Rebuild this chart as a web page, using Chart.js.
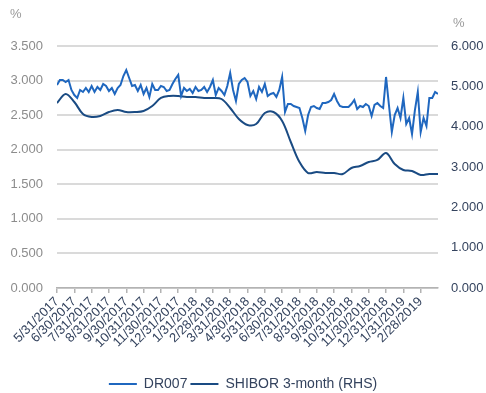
<!DOCTYPE html>
<html>
<head>
<meta charset="utf-8">
<script src="https://cdn.jsdelivr.net/npm/chart.js@4"></script>
<style>
  html, body { margin: 0; padding: 0; background: #fff; }
  #wrap { width: 486px; height: 393px; }
</style>
</head>
<body>
<div id="wrap"><canvas id="chartTasas"></canvas></div>
<script>
// Etiquetas de fin de mes del eje X
const etiquetasMes = [
  "5/31/2017", "6/30/2017", "7/31/2017", "8/31/2017", "9/30/2017", "10/31/2017",
  "11/30/2017", "12/31/2017", "1/31/2018", "2/28/2018", "3/31/2018", "4/30/2018",
  "5/31/2018", "6/30/2018", "7/31/2018", "8/31/2018", "9/30/2018", "10/31/2018",
  "11/30/2018", "12/31/2018", "1/31/2019", "2/28/2019"
];

// DR007 (%), 6 observaciones por mes
const dr007 = [
  2.936, 3.008, 3.008, 2.979, 3.008, 2.864,
  2.791, 2.748, 2.864, 2.835, 2.893, 2.835,
  2.922, 2.835, 2.907, 2.864, 2.951, 2.922,
  2.849, 2.893, 2.806, 2.893, 2.936, 3.066,
  3.153, 3.037, 2.922, 2.936, 2.849, 2.936,
  2.806, 2.893, 2.763, 2.951, 2.864, 2.864,
  2.922, 2.907, 2.849, 2.864, 2.951, 3.023,
  3.081, 2.777, 2.893, 2.849, 2.878, 2.820,
  2.907, 2.849, 2.864, 2.907, 2.835, 2.907,
  3.008, 2.791, 2.893, 2.849, 2.791, 2.922,
  3.110, 2.864, 2.705, 2.951, 3.008, 3.037,
  2.979, 2.777, 2.849, 2.734, 2.907, 2.835,
  2.951, 2.777, 2.806, 2.820, 2.763, 2.864,
  3.052, 2.546, 2.661, 2.661, 2.632, 2.618,
  2.603, 2.459, 2.271, 2.502, 2.618, 2.632,
  2.603, 2.589, 2.676, 2.676, 2.690, 2.719,
  2.806, 2.705, 2.632, 2.618, 2.618, 2.618,
  2.661, 2.719, 2.589, 2.632, 2.618, 2.661,
  2.632, 2.488, 2.647, 2.676, 2.632, 2.603,
  3.052, 2.647, 2.256, 2.502, 2.603, 2.459,
  2.748, 2.372, 2.459, 2.227, 2.574, 2.835,
  2.256, 2.459, 2.343, 2.748, 2.748, 2.835,
  2.806
];

// SHIBOR 3 meses (%), 2 observaciones por mes (eje derecho)
const shibor3m = [
  4.587, 4.810, 4.612, 4.314, 4.240, 4.265,
  4.364, 4.414, 4.364, 4.364, 4.389, 4.513,
  4.711, 4.761, 4.761, 4.736, 4.736, 4.711,
  4.711, 4.686, 4.463, 4.190, 4.042, 4.066,
  4.339, 4.364, 4.141, 3.620, 3.124, 2.851,
  2.876, 2.851, 2.851, 2.827, 2.976, 3.025,
  3.124, 3.174, 3.347, 3.075, 2.926, 2.901,
  2.802, 2.827, 2.827
];

const textoOscuro = "#34435e";
const textoGris = "#8c8c8c";
const fuente = "'Liberation Sans', Arial, sans-serif";

// Convierte una serie a puntos {x, y} con x en meses desde 5/31/2017
function aPuntos(serie, porMes) {
  return serie.map((v, i) => ({ x: i / porMes, y: v }));
}

// Dibuja las marcas "%" sobre cada eje vertical
const pluginPorcentaje = {
  id: "porcentaje",
  afterDraw(chart) {
    const { ctx, chartArea } = chart;
    ctx.save();
    ctx.font = "13px " + fuente;
    ctx.fillStyle = "#9a9a9a";
    ctx.textBaseline = "middle";
    ctx.textAlign = "left";
    ctx.fillText("%", chartArea.left - 47, chartArea.top - 32);
    ctx.fillText("%", chartArea.right + 15, chartArea.top - 23);
    ctx.restore();
  }
};

const ctx = document.getElementById("chartTasas").getContext("2d");
new Chart(ctx, {
  type: "line",
  data: {
    datasets: [
      {
        label: "DR007",
        data: aPuntos(dr007, 6),
        borderColor: "#1f67bf",
        backgroundColor: "#1f67bf",
        borderWidth: 2,
        pointRadius: 0,
        tension: 0,
        yAxisID: "y"
      },
      {
        label: "SHIBOR 3-month (RHS)",
        data: aPuntos(shibor3m, 2),
        borderColor: "#1a4b83",
        backgroundColor: "#1a4b83",
        borderWidth: 2,
        pointRadius: 0,
        tension: 0.35,
        yAxisID: "y1"
      }
    ]
  },
  options: {
    responsive: true,
    maintainAspectRatio: false,
    animation: false,
    layout: { padding: { top: 46, left: 0, right: 0, bottom: -8 } },
    plugins: {
      tooltip: { enabled: false },
      legend: {
        position: "bottom",
        labels: {
          usePointStyle: true,
          pointStyle: "line",
          pointStyleWidth: 28,
          color: textoOscuro,
          padding: 3,
          font: { family: fuente, size: 14 }
        }
      }
    },
    scales: {
      x: {
        type: "linear",
        min: 0,
        max: 22,
        ticks: {
          stepSize: 1,
          autoSkip: false,
          minRotation: 45,
          maxRotation: 45,
          padding: 1,
          color: textoOscuro,
          font: { family: fuente, size: 13 },
          callback: v => etiquetasMes[v] || ""
        },
        afterBuildTicks: scale => {
          scale.ticks = scale.ticks.filter(t => t.value <= 21);
        },
        afterFit: scale => { scale.height = 86; },
        grid: { drawOnChartArea: false, tickLength: 5, color: "#b3b3b3", lineWidth: 1.5 },
        border: { color: "#b3b3b3", width: 1.5 }
      },
      y: {
        position: "left",
        min: 0,
        max: 3.5,
        ticks: {
          stepSize: 0.5,
          padding: 14,
          color: textoGris,
          font: { family: fuente, size: 13 },
          callback: v => v.toFixed(3)
        },
        afterFit: scale => { scale.width = 57; },
        grid: { drawTicks: false, color: "#dadada", lineWidth: 2 },
        border: { display: false }
      },
      y1: {
        position: "right",
        min: 0,
        max: 6,
        ticks: {
          stepSize: 1,
          padding: 13,
          color: textoOscuro,
          font: { family: fuente, size: 13 },
          callback: v => v.toFixed(3)
        },
        afterFit: scale => { scale.width = 48; },
        grid: { drawOnChartArea: false, drawTicks: false },
        border: { display: false }
      }
    }
  },
  plugins: [pluginPorcentaje]
});
</script>
</body>
</html>
